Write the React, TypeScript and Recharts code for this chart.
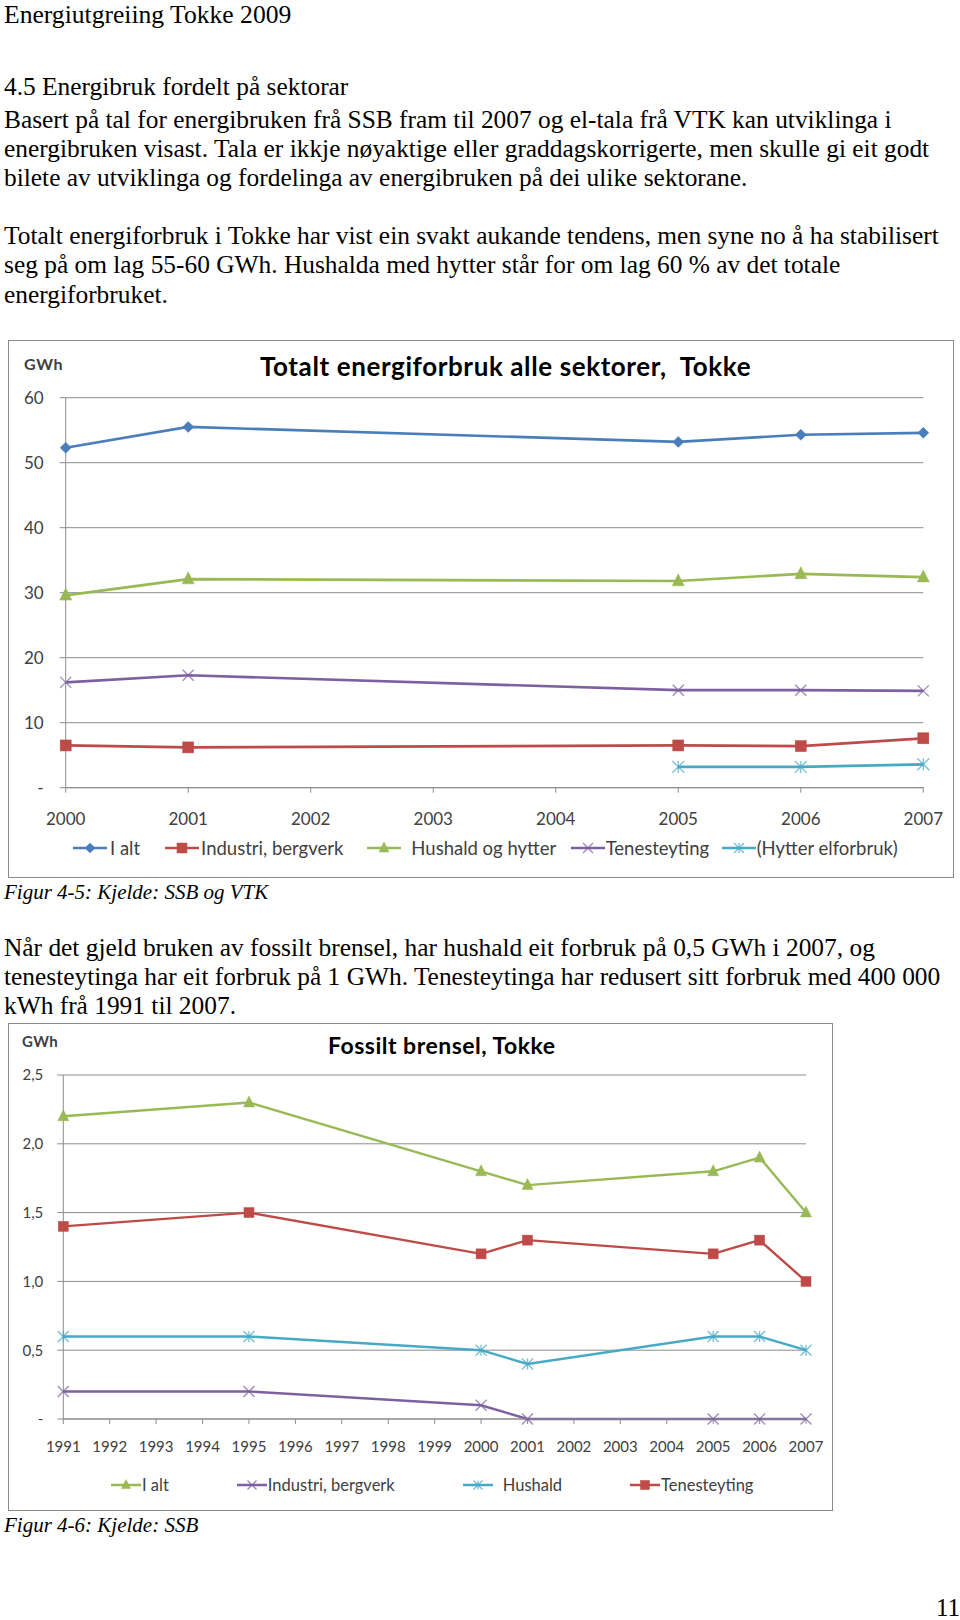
import React from 'react';
import { LineChart, Line, XAxis, YAxis, CartesianGrid } from 'recharts';

// ---------- Chart 1 data: Totalt energiforbruk alle sektorer, Tokke (GWh) ----------
const years1 = ['2000', '2001', '2002', '2003', '2004', '2005', '2006', '2007'];
const iAlt1 = [52.3, 55.5, null, null, null, 53.2, 54.3, 54.6];
const industri1 = [6.5, 6.2, null, null, null, 6.5, 6.4, 7.6];
const hushald1 = [29.6, 32.1, null, null, null, 31.8, 32.9, 32.4];
const teneste1 = [16.2, 17.3, null, null, null, 15.0, 15.0, 14.9];
const hytter1 = [null, null, null, null, null, 3.2, 3.2, 3.6];
const yTicks1 = [0, 10, 20, 30, 40, 50, 60];

// ---------- Chart 2 data: Fossilt brensel, Tokke (GWh) ----------
const years2 = ['1991', '1992', '1993', '1994', '1995', '1996', '1997', '1998', '1999', '2000', '2001', '2002', '2003', '2004', '2005', '2006', '2007'];
const iAlt2 = [2.2, null, null, null, 2.3, null, null, null, null, 1.8, 1.7, null, null, null, 1.8, 1.9, 1.5];
const industri2 = [0.2, null, null, null, 0.2, null, null, null, null, 0.1, 0, null, null, null, 0, 0, 0];
const hushald2 = [0.6, null, null, null, 0.6, null, null, null, null, 0.5, 0.4, null, null, null, 0.6, 0.6, 0.5];
const teneste2 = [1.4, null, null, null, 1.5, null, null, null, null, 1.2, 1.3, null, null, null, 1.2, 1.3, 1.0];
const yTicks2 = [0, 0.5, 1, 1.5, 2, 2.5];

const data1 = years1.map((year, i) => ({
  year,
  iAlt: iAlt1[i],
  industri: industri1[i],
  hushald: hushald1[i],
  teneste: teneste1[i],
  hytter: hytter1[i],
}));

const data2 = years2.map((year, i) => ({
  year,
  iAlt: iAlt2[i],
  industri: industri2[i],
  hushald: hushald2[i],
  teneste: teneste2[i],
}));

const BLUE = '#4A7EBB';
const RED = '#BE4B48';
const GREEN = '#98B954';
const PURPLE = '#7D60A0';
const CYAN = '#46AAC5';
const GRID = '#8C8C8C';
const LABEL = '#404040';
const CHART_FONT = 'Lato, "Open Sans", sans-serif';

type Kind = 'diamond' | 'square' | 'triangle' | 'x' | 'star';

function Marker({ kind, cx, cy, color, size }: { kind: Kind; cx: number; cy: number; color: string; size: number }) {
  const h = size / 2;
  if (kind === 'diamond') {
    return <polygon points={`${cx},${cy - h} ${cx + h},${cy} ${cx},${cy + h} ${cx - h},${cy}`} fill={color} stroke={color} strokeWidth={0.5} />;
  }
  if (kind === 'square') {
    return <rect x={cx - h} y={cy - h} width={size} height={size} fill={color} stroke={color} strokeWidth={0.5} />;
  }
  if (kind === 'triangle') {
    return <polygon points={`${cx},${cy - size * 0.6} ${cx + h},${cy + size * 0.4} ${cx - h},${cy + size * 0.4}`} fill={color} stroke={color} strokeWidth={0.5} />;
  }
  if (kind === 'x') {
    return (
      <g stroke={color} strokeWidth={1.3} strokeOpacity={0.75}>
        <line x1={cx - h} y1={cy - h} x2={cx + h} y2={cy + h} />
        <line x1={cx - h} y1={cy + h} x2={cx + h} y2={cy - h} />
      </g>
    );
  }
  return (
    <g stroke={color} strokeWidth={1.3} strokeOpacity={0.75}>
      <line x1={cx - h} y1={cy - h} x2={cx + h} y2={cy + h} />
      <line x1={cx - h} y1={cy + h} x2={cx + h} y2={cy - h} />
      <line x1={cx} y1={cy - h} x2={cx} y2={cy + h} />
    </g>
  );
}

const makeDot = (kind: Kind, color: string, size: number) => (props: any) => {
  const { cx, cy, value, index } = props;
  if (cx == null || cy == null || value == null || Number.isNaN(cy)) return <g key={`e${index}`} />;
  return <Marker key={`m${index}`} kind={kind} cx={cx} cy={cy} color={color} size={size} />;
};

type LegendItem = { name: string; color: string; kind: Kind };

function ChartLegend({ items, symW, gaps, fontSize, markerSize, textGap }: { items: LegendItem[]; symW: number; gaps: number[]; fontSize: number; markerSize: number; textGap: number[] }) {
  return (
    <div style={{ display: 'flex', alignItems: 'center', fontFamily: CHART_FONT, fontSize, color: LABEL, whiteSpace: 'nowrap' }}>
      {items.map((it, i) => (
        <div key={it.name} style={{ display: 'flex', alignItems: 'center', marginLeft: gaps[i] }}>
          <svg width={symW} height={16} style={{ display: 'block' }}>
            <line x1={0} y1={8} x2={symW} y2={8} stroke={it.color} strokeWidth={2.5} />
            <Marker kind={it.kind} cx={symW / 2} cy={8} color={it.color} size={markerSize} />
          </svg>
          <span style={{ marginLeft: textGap[i] }}>{it.name}</span>
        </div>
      ))}
    </div>
  );
}

const legend1: LegendItem[] = [
  { name: 'I alt', color: BLUE, kind: 'diamond' },
  { name: 'Industri, bergverk', color: RED, kind: 'square' },
  { name: 'Hushald  og hytter', color: GREEN, kind: 'triangle' },
  { name: 'Tenesteyting', color: PURPLE, kind: 'x' },
  { name: '(Hytter elforbruk)', color: CYAN, kind: 'star' },
];

const legend2: LegendItem[] = [
  { name: 'I alt', color: GREEN, kind: 'triangle' },
  { name: 'Industri, bergverk', color: PURPLE, kind: 'x' },
  { name: 'Hushald', color: CYAN, kind: 'star' },
  { name: 'Tenesteyting', color: RED, kind: 'square' },
];

function Chart1() {
  const tick = { fill: LABEL, fontSize: 17, fontFamily: CHART_FONT };
  return (
    <div style={{ position: 'absolute', left: 8, top: 340, width: 946, height: 538, border: '1px solid #8A8A8A', boxSizing: 'border-box', background: '#fff' }}>
      <div style={{ position: 'absolute', left: -1, top: -1 }}>
        <LineChart width={946} height={538} data={data1} margin={{ top: 57.7, right: 30.7, bottom: 50.3, left: 7.7 }}>
          <CartesianGrid vertical={false} stroke={GRID} strokeWidth={1} />
          <XAxis dataKey="year" interval={0} tickSize={5} tickMargin={20} height={40} axisLine={{ stroke: GRID }} tickLine={{ stroke: GRID }} tick={tick} />
          <YAxis type="number" domain={[0, 60]} ticks={yTicks1} interval={0} width={50} tickSize={6} tickMargin={16} axisLine={{ stroke: GRID }} tickLine={{ stroke: GRID }} tick={tick} tickFormatter={(v: number) => (v === 0 ? '-' : String(v))} />
          <Line dataKey="iAlt" stroke={BLUE} strokeWidth={2.7} connectNulls isAnimationActive={false} dot={makeDot('diamond', BLUE, 11)} activeDot={false} />
          <Line dataKey="hushald" stroke={GREEN} strokeWidth={2.7} connectNulls isAnimationActive={false} dot={makeDot('triangle', GREEN, 12)} activeDot={false} />
          <Line dataKey="teneste" stroke={PURPLE} strokeWidth={2.7} connectNulls isAnimationActive={false} dot={makeDot('x', PURPLE, 11)} activeDot={false} />
          <Line dataKey="industri" stroke={RED} strokeWidth={2.7} connectNulls isAnimationActive={false} dot={makeDot('square', RED, 11)} activeDot={false} />
          <Line dataKey="hytter" stroke={CYAN} strokeWidth={2.7} connectNulls isAnimationActive={false} dot={makeDot('star', CYAN, 12)} activeDot={false} />
        </LineChart>
      </div>
      <div style={{ position: 'absolute', left: 15, top: 13, fontFamily: CHART_FONT, fontWeight: 700, fontSize: 16, letterSpacing: 0.6, color: LABEL }}>GWh</div>
      <div style={{ position: 'absolute', left: 251, top: 9, fontFamily: CHART_FONT, fontWeight: 700, fontSize: 26, letterSpacing: 0.6, color: '#000', whiteSpace: 'pre' }}>Totalt energiforbruk alle sektorer,  Tokke</div>
      <div style={{ position: 'absolute', left: 64, top: 496 }}>
        <ChartLegend items={legend1} symW={34} gaps={[0, 25, 24, 14.5, 12.5]} fontSize={18.5} markerSize={10} textGap={[3, 2, 10, 1, 1]} />
      </div>
    </div>
  );
}

function Chart2() {
  const tick = { fill: LABEL, fontSize: 15, fontFamily: CHART_FONT };
  return (
    <div style={{ position: 'absolute', left: 8, top: 1023, width: 825, height: 488, border: '1px solid #8A8A8A', boxSizing: 'border-box', background: '#fff' }}>
      <div style={{ position: 'absolute', left: -1, top: -1 }}>
        <LineChart width={825} height={488} data={data2} margin={{ top: 52, right: 27, bottom: 52, left: 5.3 }}>
          <CartesianGrid vertical={false} stroke={GRID} strokeWidth={1} />
          <XAxis dataKey="year" interval={0} tickSize={5} tickMargin={17} height={40} axisLine={{ stroke: GRID }} tickLine={{ stroke: GRID }} tick={tick} />
          <YAxis type="number" domain={[0, 2.5]} ticks={yTicks2} interval={0} width={50} tickSize={6} tickMargin={14} axisLine={{ stroke: GRID }} tickLine={{ stroke: GRID }} tick={tick} tickFormatter={(v: number) => (v === 0 ? '-' : v.toFixed(1).replace('.', ','))} />
          <Line dataKey="iAlt" stroke={GREEN} strokeWidth={2.4} connectNulls isAnimationActive={false} dot={makeDot('triangle', GREEN, 11)} activeDot={false} />
          <Line dataKey="teneste" stroke={RED} strokeWidth={2.4} connectNulls isAnimationActive={false} dot={makeDot('square', RED, 10)} activeDot={false} />
          <Line dataKey="hushald" stroke={CYAN} strokeWidth={2.4} connectNulls isAnimationActive={false} dot={makeDot('star', CYAN, 11)} activeDot={false} />
          <Line dataKey="industri" stroke={PURPLE} strokeWidth={2.4} connectNulls isAnimationActive={false} dot={makeDot('x', PURPLE, 11)} activeDot={false} />
        </LineChart>
      </div>
      <div style={{ position: 'absolute', left: 13, top: 8, fontFamily: CHART_FONT, fontWeight: 700, fontSize: 15, letterSpacing: 0.4, color: LABEL }}>GWh</div>
      <div style={{ position: 'absolute', left: 319, top: 7, fontFamily: CHART_FONT, fontWeight: 700, fontSize: 23, letterSpacing: 0.5, color: '#000', whiteSpace: 'pre' }}>Fossilt brensel, Tokke</div>
      <div style={{ position: 'absolute', left: 102, top: 451 }}>
        <ChartLegend items={legend2} symW={30} gaps={[0, 68, 68, 68]} fontSize={16.5} markerSize={9} textGap={[1, 1, 10, 1]} />
      </div>
    </div>
  );
}

function TextLine({ top, children, italic, size = 25.4, lh }: { top: number; children: React.ReactNode; italic?: boolean; size?: number; lh?: number }) {
  const lineHeight = lh ?? (size > 24 ? 29 : 24);
  return (
    <div style={{ position: 'absolute', left: 4, top, fontSize: size, lineHeight: `${lineHeight}px`, fontStyle: italic ? 'italic' : 'normal', whiteSpace: 'nowrap' }}>
      {children}
    </div>
  );
}

export default function App() {
  return (
    <div style={{ position: 'absolute', left: 0, top: 0, width: 960, height: 1620, overflow: 'hidden', background: '#fff', color: '#000', fontFamily: '"Liberation Serif", "Times New Roman", serif' }}>
      <TextLine top={0.5} size={25.6} lh={28.4}>Energiutgreiing Tokke 2009</TextLine>
      <TextLine top={71.8}>4.5 Energibruk fordelt på sektorar</TextLine>
      <TextLine top={104.9}>Basert på tal for energibruken frå SSB fram til 2007 og el-tala frå VTK kan utviklinga i</TextLine>
      <TextLine top={133.8}>energibruken visast. Tala er ikkje nøyaktige eller graddagskorrigerte, men skulle gi eit godt</TextLine>
      <TextLine top={162.8}>bilete av utviklinga og fordelinga av energibruken på dei ulike sektorane.</TextLine>
      <TextLine top={220.6}>Totalt energiforbruk i Tokke har vist ein svakt aukande tendens, men syne no å ha stabilisert</TextLine>
      <TextLine top={249.6}>seg på om lag 55-60 GWh. Hushalda med hytter står for om lag 60 % av det totale</TextLine>
      <TextLine top={279.5}>energiforbruket.</TextLine>
      <Chart1 />
      <TextLine top={880} italic size={21}>Figur 4-5: Kjelde: SSB og VTK</TextLine>
      <TextLine top={932.7}>Når det gjeld bruken av fossilt brensel, har hushald eit forbruk på 0,5 GWh i 2007, og</TextLine>
      <TextLine top={961.6}>tenesteytinga har eit forbruk på 1 GWh. Tenesteytinga har redusert sitt forbruk med 400 000</TextLine>
      <TextLine top={990.5}>kWh frå 1991 til 2007.</TextLine>
      <Chart2 />
      <TextLine top={1512.7} italic size={21}>Figur 4-6: Kjelde: SSB</TextLine>
      <div style={{ position: 'absolute', right: 0, top: 1593, fontSize: 25, lineHeight: '29px' }}>11</div>
    </div>
  );
}
